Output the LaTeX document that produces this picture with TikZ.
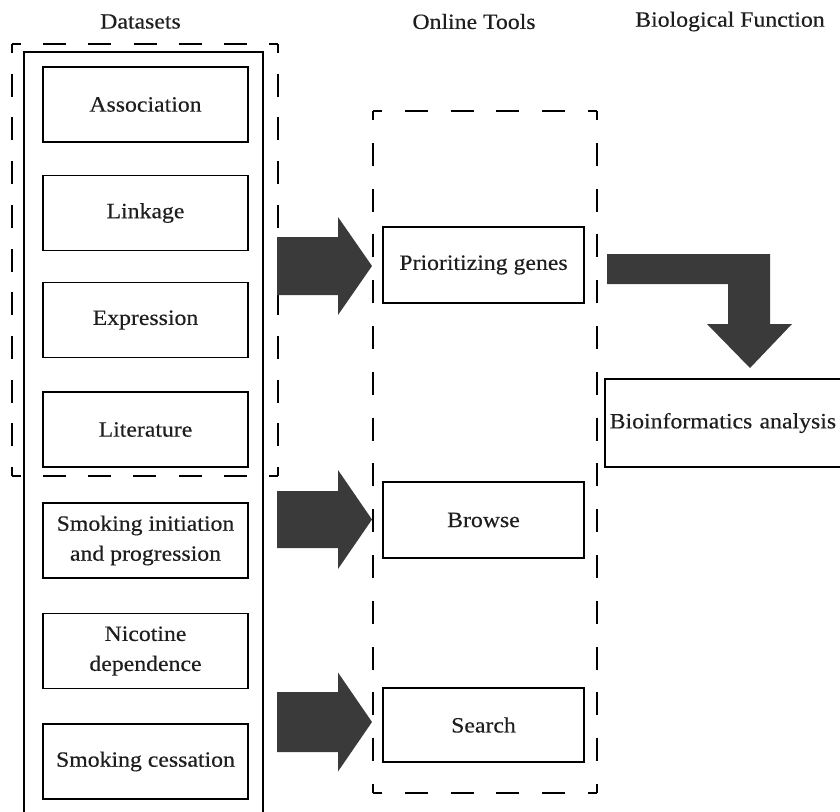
\documentclass[tikz,border=0pt]{standalone}
\usepackage{fontspec}
\setmainfont{Liberation Serif}[FakeStretch=1.09, FakeBold=0.35]
\definecolor{arrowgray}{HTML}{3A3A3A}
\definecolor{textgray}{HTML}{1E1E1E}
\begin{document}
\begin{tikzpicture}[x=1pt,y=-1pt,
  txt/.style={font=\fontsize{21.8}{30}\selectfont, text=textgray},
  dbox/.style={draw, line width=1.5pt, minimum width=205pt, minimum height=75pt, align=center, txt, inner sep=0pt},
  tbox/.style={draw, line width=1.5pt, minimum width=201pt, minimum height=76pt, align=center, txt, inner sep=0pt},
  dside/.style={line width=1.8pt, line cap=butt, dash pattern=on 23pt off #1pt, dash phase=14pt},
  blockarrow/.style={fill=arrowgray, draw=none},
  hdr/.style={txt, inner sep=0pt}]

\useasboundingbox (0,0) rectangle (840,811);

% headers
\node[hdr] (h1) at (140.5,21.5) {Datasets};
\node[hdr] (h2) at (474,21.5) {Online Tools};
\node[hdr] (h3) at (730,21.5) {Biological Function};

% left dashed frame (12,44)-(278,476)
\draw[dside=22.17] (12,44) -- (278,44);
\draw[dside=20.7] (278,44) -- (278,476);
\draw[dside=22.17] (278,476) -- (12,476);
\draw[dside=20.7] (12,476) -- (12,44);

% solid frame
\draw[line width=2pt] (24,815) -- (24,52) -- (263,52) -- (263,815);

% dataset boxes
\node[dbox] (assoc) at (145.5,104.5) {Association};
\node[dbox] (link)  at (145.5,213) {Linkage};
\node[dbox] (expr)  at (145.5,320) {Expression};
\node[dbox] (lit)   at (145.5,429.5) {Literature};
\node[dbox] (init)  at (145.5,540.5) {Smoking initiation\\and progression};
\node[dbox] (nic)   at (145.5,651) {Nicotine\\dependence};
\node[dbox] (cess)  at (145.5,761.5) {Smoking cessation};

% middle dashed frame (373,111)-(597,793)
\draw[dside=22.8] (373,111) -- (597,111);
\draw[dside=22.8] (597,111) -- (597,793);
\draw[dside=22.8] (597,793) -- (373,793);
\draw[dside=22.8] (373,793) -- (373,111);

% tool boxes
\node[tbox] (prio)   at (483.5,265) {Prioritizing genes};
\node[tbox] (browse) at (483.5,520) {Browse};
\node[tbox, minimum height=74pt] (search) at (483.5,725) {Search};

% bioinformatics box
\node[draw, line width=1.5pt, anchor=west, txt, align=left, text width=230pt,
      inner xsep=5pt, inner ysep=0pt, minimum height=88pt] (bio) at (604,423) {Bioinformatics analysis};

% block arrows
\foreach \yc/\hs/\hh in {266/29/49, 519.5/28.5/49.5, 722/30/49.5}{
  \fill[blockarrow] (277,\yc-\hs) -- (338,\yc-\hs) -- (338,\yc-\hh) -- (372,\yc)
     -- (338,\yc+\hh) -- (338,\yc+\hs) -- (277,\yc+\hs) -- cycle;
}

% elbow arrow
\fill[blockarrow] (607,254) -- (770,254) -- (770,324) -- (792,324) -- (750,368)
   -- (707,324) -- (728,324) -- (728,284) -- (607,284) -- cycle;

\end{tikzpicture}
\end{document}
